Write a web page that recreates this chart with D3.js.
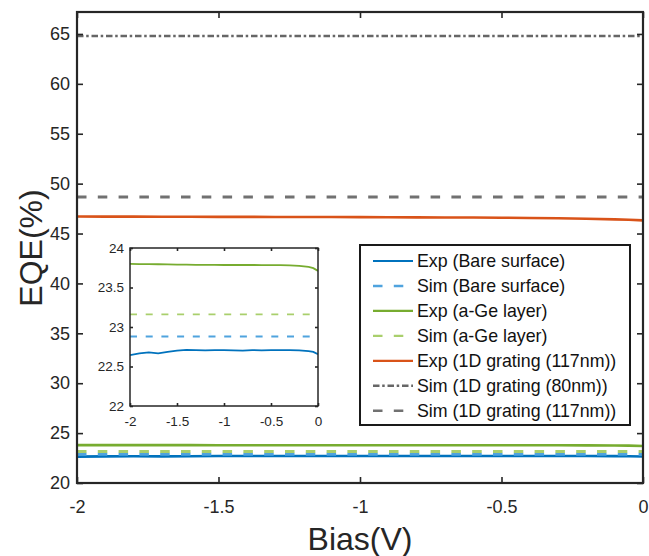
<!DOCTYPE html>
<html>
<head>
<meta charset="utf-8">
<script src="https://cdn.jsdelivr.net/npm/d3@7"></script>
<style>
  html, body { margin: 0; padding: 0; background: #fff; }
  svg { display: block; }
  text { font-family: "Liberation Sans", Arial, Helvetica, sans-serif; }
</style>
</head>
<body>
<svg id="chart" width="649" height="556"></svg>
<script>
// Bias sweep (V) at which the measured EQE curves were sampled
const biasV = [-2.0, -1.9, -1.8, -1.7, -1.6, -1.5, -1.4, -1.3, -1.2, -1.1, -1.0,
               -0.9, -0.8, -0.7, -0.6, -0.5, -0.4, -0.3, -0.2, -0.1, -0.05, 0.0];

// Measured EQE (%)
const expBare    = [22.645, 22.665, 22.678, 22.667, 22.686, 22.700, 22.710, 22.708, 22.705, 22.708, 22.708,
                    22.705, 22.702, 22.707, 22.705, 22.708, 22.708, 22.708, 22.705, 22.695, 22.685, 22.655];
const expAGe     = [23.798, 23.797, 23.795, 23.794, 23.792, 23.790, 23.789, 23.787, 23.786, 23.786, 23.785,
                    23.785, 23.785, 23.785, 23.784, 23.783, 23.782, 23.780, 23.775, 23.760, 23.745, 23.710];
const expGrating = [46.70, 46.69, 46.69, 46.68, 46.68, 46.67, 46.67, 46.66, 46.66, 46.65, 46.64,
                    46.63, 46.62, 46.61, 46.60, 46.58, 46.56, 46.53, 46.48, 46.42, 46.38, 46.32];

// Simulated EQE (%), bias independent
const simBias      = [-2.0, 0.0];
const simBare      = [22.88, 22.88];
const simAGe       = [23.16, 23.16];
const simGrating80 = [64.8, 64.8];
const simGrating117 = [48.65, 48.65];

// Axis ticks
const mainXTicks = [-2, -1.5, -1, -0.5, 0];
const mainYTicks = [20, 25, 30, 35, 40, 45, 50, 55, 60, 65];
const insetXTicks = [-2, -1.5, -1, -0.5, 0];
const insetYTicks = [22, 22.5, 23, 23.5, 24];

const legendLabels = [
  "Exp (Bare surface)", "Sim (Bare surface)", "Exp (a-Ge layer)", "Sim (a-Ge layer)",
  "Exp (1D grating (117nm))", "Sim (1D grating (80nm))", "Sim (1D grating (117nm))"
];

// Series styling
const C = {
  blue: "#0072BD", lightBlue: "#4FA3DE",
  green: "#77AC30", lightGreen: "#A9CF6C",
  orange: "#D95319", grayDashDot: "#666666", grayDash: "#717171",
  axis: "#262626"
};
const DASH_MAIN = "9.5,11.3";
const DASH_DOT = "6.5,2.7,2.5,2.8";
const DASH_INSET = "7,8.7";

const series = [
  { x: biasV,   y: expBare,       color: C.blue,        w: 2.6, dash: null,      inset: true },
  { x: simBias, y: simBare,       color: C.lightBlue,   w: 3.0, dash: DASH_MAIN, inset: true },
  { x: biasV,   y: expAGe,        color: C.green,       w: 2.6, dash: null,      inset: true },
  { x: simBias, y: simAGe,        color: C.lightGreen,  w: 3.0, dash: DASH_MAIN, inset: true },
  { x: biasV,   y: expGrating,    color: C.orange,      w: 2.6, dash: null,      inset: false },
  { x: simBias, y: simGrating80,  color: C.grayDashDot, w: 2.6, dash: DASH_DOT,  inset: false },
  { x: simBias, y: simGrating117, color: C.grayDash,    w: 3.0, dash: DASH_MAIN, inset: false }
];

const svg = d3.select("#chart");

// ---------- main axes ----------
const M = { left: 77, top: 12, right: 643, bottom: 483 };
const x = d3.scaleLinear().domain([-2, 0]).range([M.left, M.right]);
const y = d3.scaleLinear().domain([20, 67.2]).range([M.bottom, M.top]);

svg.append("clipPath").attr("id", "clipMain")
  .append("rect").attr("x", M.left).attr("y", M.top)
  .attr("width", M.right - M.left).attr("height", M.bottom - M.top);

const gLines = svg.append("g").attr("clip-path", "url(#clipMain)");
const toPts = s => s.x.map((v, i) => [v, s.y[i]]);

series.forEach(s => {
  gLines.append("path")
    .attr("d", d3.line().x(d => x(d[0])).y(d => y(d[1]))(toPts(s)))
    .attr("fill", "none").attr("stroke", s.color).attr("stroke-width", s.w)
    .attr("stroke-dasharray", s.dash);
});

function styleAxis(g, fontSize) {
  g.select(".domain").remove();
  g.selectAll(".tick line").attr("stroke", C.axis).attr("stroke-width", 1.6);
  g.selectAll(".tick text").attr("fill", C.axis).style("font-size", fontSize + "px");
}
const fmt = d => String(d);

svg.append("g").attr("transform", `translate(0,${M.bottom})`)
  .call(d3.axisBottom(x).tickValues(mainXTicks).tickFormat(fmt).tickSizeInner(-6).tickSizeOuter(0).tickPadding(17))
  .call(g => styleAxis(g, 18));
svg.append("g").attr("transform", `translate(0,${M.top})`)
  .call(d3.axisTop(x).tickValues(mainXTicks).tickFormat("").tickSizeInner(-6).tickSizeOuter(0))
  .call(g => styleAxis(g, 18));
svg.append("g").attr("transform", `translate(${M.left},0)`)
  .call(d3.axisLeft(y).tickValues(mainYTicks).tickFormat(fmt).tickSizeInner(-6).tickSizeOuter(0).tickPadding(7))
  .call(g => styleAxis(g, 18));
svg.append("g").attr("transform", `translate(${M.right},0)`)
  .call(d3.axisRight(y).tickValues(mainYTicks).tickFormat("").tickSizeInner(-6).tickSizeOuter(0))
  .call(g => styleAxis(g, 18));

svg.append("rect").attr("x", M.left).attr("y", M.top)
  .attr("width", M.right - M.left).attr("height", M.bottom - M.top)
  .attr("fill", "none").attr("stroke", C.axis).attr("stroke-width", 2.2);

svg.append("text").attr("x", (M.left + M.right) / 2).attr("y", 550)
  .attr("text-anchor", "middle").attr("fill", C.axis)
  .style("font-size", "32px").text("Bias(V)");
svg.append("text").attr("transform", "translate(42,248) rotate(-90)")
  .attr("text-anchor", "middle").attr("fill", C.axis)
  .style("font-size", "32px").text("EQE(%)");

// ---------- inset ----------
const I = { left: 130, top: 248, right: 318, bottom: 406 };
const xi = d3.scaleLinear().domain([-2, 0]).range([I.left, I.right]);
const yi = d3.scaleLinear().domain([22, 24]).range([I.bottom, I.top]);

svg.append("rect").attr("x", I.left).attr("y", I.top)
  .attr("width", I.right - I.left).attr("height", I.bottom - I.top).attr("fill", "#fff");

svg.append("clipPath").attr("id", "clipInset")
  .append("rect").attr("x", I.left).attr("y", I.top)
  .attr("width", I.right - I.left).attr("height", I.bottom - I.top);
const gInset = svg.append("g").attr("clip-path", "url(#clipInset)");
series.filter(s => s.inset).forEach(s => {
  gInset.append("path")
    .attr("d", d3.line().x(d => xi(d[0])).y(d => yi(d[1]))(toPts(s)))
    .attr("fill", "none").attr("stroke", s.color).attr("stroke-width", 1.8)
    .attr("stroke-dasharray", s.dash ? DASH_INSET : null);
});

svg.append("g").attr("transform", `translate(0,${I.bottom})`)
  .call(d3.axisBottom(xi).tickValues(insetXTicks).tickFormat(fmt).tickSizeInner(-3).tickSizeOuter(0).tickPadding(10))
  .call(g => styleAxis(g, 13.5));
svg.append("g").attr("transform", `translate(0,${I.top})`)
  .call(d3.axisTop(xi).tickValues(insetXTicks).tickFormat("").tickSizeInner(-3).tickSizeOuter(0))
  .call(g => styleAxis(g, 13.5));
svg.append("g").attr("transform", `translate(${I.left},0)`)
  .call(d3.axisLeft(yi).tickValues(insetYTicks).tickFormat(fmt).tickSizeInner(-3).tickSizeOuter(0).tickPadding(6))
  .call(g => styleAxis(g, 13.5));
svg.append("g").attr("transform", `translate(${I.right},0)`)
  .call(d3.axisRight(yi).tickValues(insetYTicks).tickFormat("").tickSizeInner(-3).tickSizeOuter(0))
  .call(g => styleAxis(g, 13.5));
svg.append("rect").attr("x", I.left).attr("y", I.top)
  .attr("width", I.right - I.left).attr("height", I.bottom - I.top)
  .attr("fill", "none").attr("stroke", C.axis).attr("stroke-width", 1.5);

// ---------- legend ----------
const L = { left: 360, top: 245, right: 630, bottom: 425, row0: 261, rowStep: 24.95 };
svg.append("rect").attr("x", L.left).attr("y", L.top)
  .attr("width", L.right - L.left).attr("height", L.bottom - L.top)
  .attr("fill", "#fff").attr("stroke", "#1a1a1a").attr("stroke-width", 2);

const legendRows = svg.append("g").selectAll("g").data(series).join("g")
  .attr("transform", (d, i) => `translate(0,${L.row0 + i * L.rowStep})`);
legendRows.append("line")
  .attr("x1", 373).attr("x2", 413).attr("y1", 0).attr("y2", 0)
  .attr("stroke", d => d.color).attr("stroke-width", d => d.dash ? 2.4 : 2.2)
  .attr("stroke-dasharray", d => d.dash);
legendRows.append("text")
  .attr("x", 417).attr("y", 0).attr("dy", "0.35em").attr("fill", "#111")
  .style("font-size", "17.8px")
  .text((d, i) => legendLabels[i]);
</script>
</body>
</html>
